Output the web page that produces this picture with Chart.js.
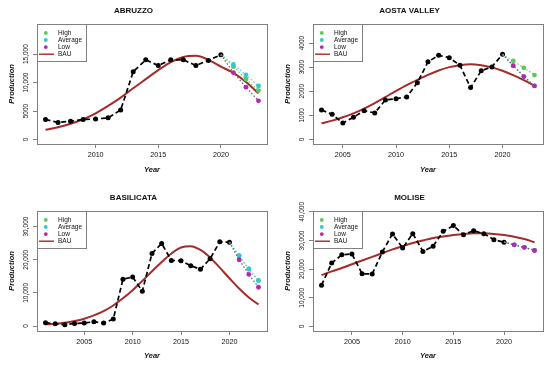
<!DOCTYPE html>
<html>
<head>
<meta charset="utf-8">
<script src="https://cdn.jsdelivr.net/npm/chart.js@4.4.0/dist/chart.umd.min.js"></script>
<style>
  body { margin: 0; background: #fff; }
  .panel { position: absolute; }
</style>
</head>
<body>
<canvas id="abruzzo" class="panel" width="275" height="183" style="left:0;top:0"></canvas>
<canvas id="aosta" class="panel" width="274" height="183" style="left:276px;top:0"></canvas>
<canvas id="basilicata" class="panel" width="275" height="184" style="left:0;top:183px"></canvas>
<canvas id="molise" class="panel" width="274" height="184" style="left:276px;top:183px"></canvas>
<script>
// values
var forecastYears = [2021, 2022, 2023];
var legendLabels = ['High', 'Average', 'Low', 'BAU'];

var abruzzoYears = [2006, 2007, 2008, 2009, 2010, 2011, 2012, 2013, 2014, 2015, 2016, 2017, 2018, 2019, 2020];
var abruzzoProd = [3500, 3000, 3200, 3500, 3600, 3800, 5200, 11900, 14000, 13000, 14000, 14000, 13000, 13900, 14900];
var abruzzoBauYears = [2006, 2007, 2008, 2009, 2010, 2011, 2012, 2013, 2014, 2015, 2016, 2017, 2018, 2019, 2020, 2021, 2022, 2023];
var abruzzoBau = [1700, 2150, 2750, 3550, 4600, 5900, 7350, 9000, 10600, 12200, 13600, 14500, 14700, 14000, 12800, 11700, 10100, 8100];
var abruzzoHigh = [12800, 10600, 8600];
var abruzzoAvg = [13200, 11350, 9400];
var abruzzoLow = [11750, 9200, 6800];
var abruzzoYTicks = [0, 5000, 10000, 15000];
var abruzzoYLabels = ['0', '5000', '10,000', '15,000'];
var abruzzoXTicks = [2010, 2015, 2020];

var aostaYears = [2003, 2004, 2005, 2006, 2007, 2008, 2009, 2010, 2011, 2012, 2013, 2014, 2015, 2016, 2017, 2018, 2019, 2020];
var aostaProd = [1220, 1040, 680, 920, 1190, 1100, 1640, 1690, 1760, 2350, 3220, 3490, 3390, 3080, 2150, 2850, 3010, 3530];
var aostaBauYears = [2003, 2004, 2005, 2006, 2007, 2008, 2009, 2010, 2011, 2012, 2013, 2014, 2015, 2016, 2017, 2018, 2019, 2020, 2021, 2022, 2023];
var aostaBau = [670, 780, 920, 1080, 1280, 1510, 1760, 2010, 2250, 2470, 2680, 2860, 3000, 3080, 3120, 3080, 2990, 2850, 2670, 2460, 2220];
var aostaHigh = [3260, 2970, 2670];
var aostaAvg = [3060, 2610, 2220];
var aostaLow = [3060, 2610, 2220];
var aostaYTicks = [0, 1000, 2000, 3000, 4000];
var aostaYLabels = ['0', '1000', '2000', '3000', '4000'];
var aostaXTicks = [2005, 2010, 2015, 2020];

var basilicataYears = [2001, 2002, 2003, 2004, 2005, 2006, 2007, 2008, 2009, 2010, 2011, 2012, 2013, 2014, 2015, 2016, 2017, 2018, 2019, 2020];
var basilicataProd = [1000, 700, 400, 800, 900, 1300, 900, 2100, 14100, 14800, 10500, 21900, 24900, 19800, 19700, 18200, 17100, 20300, 25400, 25300];
var basilicataBauYears = [2001, 2002, 2003, 2004, 2005, 2006, 2007, 2008, 2009, 2010, 2011, 2012, 2013, 2014, 2015, 2016, 2017, 2018, 2019, 2020, 2021, 2022, 2023];
var basilicataBau = [500, 700, 1000, 1500, 2200, 3200, 4500, 6200, 8400, 10800, 13600, 16500, 19300, 21900, 23700, 24100, 23000, 20700, 17600, 14400, 11300, 8600, 6500];
var basilicataHigh = [21200, 17200, 13700];
var basilicataAvg = [21200, 17200, 13700];
var basilicataLow = [20000, 15600, 11700];
var basilicataYTicks = [0, 10000, 20000, 30000];
var basilicataYLabels = ['0', '10,000', '20,000', '30,000'];
var basilicataXTicks = [2005, 2010, 2015, 2020];

var moliseYears = [2002, 2003, 2004, 2005, 2006, 2007, 2008, 2009, 2010, 2011, 2012, 2013, 2014, 2015, 2016, 2017, 2018, 2019, 2020];
var moliseProd = [14400, 22100, 25000, 25300, 18400, 18300, 26000, 32300, 27400, 32400, 26200, 28000, 33200, 35200, 32000, 33400, 32400, 30300, 29400];
var moliseBauYears = [2002, 2003, 2004, 2005, 2006, 2007, 2008, 2009, 2010, 2011, 2012, 2013, 2014, 2015, 2016, 2017, 2018, 2019, 2020, 2021, 2022, 2023];
var moliseBau = [17900, 19200, 20400, 21700, 23000, 24300, 25600, 26900, 28000, 29100, 30000, 30900, 31400, 31900, 32300, 32500, 32500, 32300, 31900, 31300, 30500, 29400];
var moliseHigh = [28500, 27600, 26500];
var moliseAvg = [28500, 27600, 26500];
var moliseLow = [28500, 27600, 26500];
var moliseYTicks = [0, 10000, 20000, 30000, 40000];
var moliseYLabels = ['0', '10,000', '20,000', '30,000', '40,000'];
var moliseXTicks = [2005, 2010, 2015, 2020];

var FONT = '"Liberation Sans", Arial, sans-serif';
var GREY = '#808080';
Chart.defaults.font.family = FONT;
Chart.defaults.color = '#111';

// box round the plot, R style rotated y labels and the legend box
var rFrame = {
  id: 'rFrame',
  afterDraw: function(chart, args, opts) {
    var ctx = chart.ctx;
    var a = chart.chartArea;
    var y = chart.scales.y;
    ctx.save();
    ctx.strokeStyle = GREY;
    ctx.lineWidth = 1;
    ctx.strokeRect(a.left + 0.5, a.top + 0.5, a.right - a.left, a.bottom - a.top);

    ctx.fillStyle = '#111';
    ctx.font = '6.5px ' + FONT;
    ctx.textAlign = 'center';
    ctx.textBaseline = 'middle';
    for (var i = 0; i < opts.yTicks.length; i++) {
      var py = y.getPixelForValue(opts.yTicks[i]);
      ctx.save();
      ctx.translate(a.left - 11, py);
      ctx.rotate(-Math.PI / 2);
      ctx.fillText(opts.yLabels[i], 0, 0);
      ctx.restore();
    }

    // legend
    var lx = a.left + 0.5, ly = a.top + 0.5;
    ctx.fillStyle = '#fff';
    ctx.fillRect(lx, ly, 49, 37);
    ctx.strokeStyle = GREY;
    ctx.strokeRect(lx, ly, 49, 37);
    ctx.font = '6.5px ' + FONT;
    ctx.textAlign = 'left';
    legendLabels.forEach(function(lab, k) {
      var ds = chart.data.datasets.find(function(d) { return d.label === lab; });
      var iy = ly + 8.4 + k * 7.1;
      if (lab === 'BAU') {
        ctx.strokeStyle = ds.borderColor;
        ctx.lineWidth = 1.4;
        ctx.beginPath();
        ctx.moveTo(lx + 1.5, iy);
        ctx.lineTo(lx + 16.5, iy);
        ctx.stroke();
      } else {
        ctx.fillStyle = ds.pointBackgroundColor;
        ctx.beginPath();
        ctx.arc(lx + 8.3, iy, 1.9, 0, Math.PI * 2);
        ctx.fill();
      }
      ctx.fillStyle = '#111';
      ctx.fillText(lab, lx + 20.5, iy + 0.5);
    });
    ctx.restore();
  }
};

function points(xs, ys) {
  return xs.map(function(x, i) { return {x: x, y: ys[i]}; });
}

function forecast(years, prod, vals) {
  var last = {x: years[years.length - 1], y: prod[prod.length - 1]};
  return [last].concat(points(forecastYears, vals));
}

function scenario(label, data, color, lineColor, order) {
  return {
    label: label,
    data: data,
    borderColor: lineColor,
    borderWidth: 1.3,
    borderDash: [1.5, 2],
    pointRadius: [0, 2.4, 2.4, 2.4],
    pointBackgroundColor: color,
    pointBorderWidth: 0,
    order: order
  };
}

function makePanel(id, p, box) {
  var canvas = document.getElementById(id);
  var W = canvas.width, H = canvas.height;
  new Chart(canvas.getContext('2d'), {
    type: 'line',
    data: {
      datasets: [
        {
          label: 'BAU',
          data: points(p.bauYears, p.bau),
          borderColor: '#a52a2a',
          borderWidth: 2,
          pointRadius: 0,
          cubicInterpolationMode: 'monotone',
          order: 5
        },
        {
          label: 'Production',
          data: points(p.years, p.prod),
          borderColor: '#000',
          borderWidth: 1.7,
          borderDash: [5, 3],
          pointRadius: 2.5,
          pointBackgroundColor: '#000',
          pointBorderWidth: 0,
          order: 4
        },
        scenario('High', forecast(p.years, p.prod, p.high), '#5cc85c', '#7fd07f', 3),
        scenario('Average', forecast(p.years, p.prod, p.avg), '#33c8d2', '#6fd3da', 2),
        scenario('Low', forecast(p.years, p.prod, p.low), '#b426b4', '#7a607a', 1)
      ]
    },
    options: {
      responsive: false,
      animation: false,
      devicePixelRatio: 1,
      layout: { padding: { left: 0, right: W - box.right, top: 0, bottom: 0 } },
      plugins: {
        legend: { display: false },
        tooltip: { enabled: false },
        title: {
          display: true,
          text: p.title,
          font: { size: 8, weight: 'bold' },
          color: '#111',
          padding: { top: box.titleTop, bottom: box.top - box.titleTop - 9.6 }
        },
        rFrame: { yTicks: p.yTicks, yLabels: p.yLabels }
      },
      scales: {
        x: {
          type: 'linear',
          min: p.xMin,
          max: p.xMax,
          afterBuildTicks: function(s) { s.ticks = p.xTicks.map(function(v) { return {value: v}; }); },
          afterFit: function(s) { s.height = H - box.bottom; },
          grid: { drawOnChartArea: false, color: GREY, tickLength: 4 },
          border: { display: false },
          ticks: {
            font: { size: 7.2 },
            color: '#111',
            padding: 3,
            maxRotation: 0,
            autoSkip: false,
            callback: function(v) { return String(v); }
          },
          title: {
            display: true,
            text: 'Year',
            color: '#111',
            font: { size: 7.5, weight: 'bold', style: 'italic' },
            padding: { top: 0, bottom: box.yearPad }
          }
        },
        y: {
          min: p.yMin,
          max: p.yMax,
          afterBuildTicks: function(s) { s.ticks = p.yTicks.map(function(v) { return {value: v}; }); },
          afterFit: function(s) { s.width = box.left; },
          grid: { drawOnChartArea: false, color: GREY, tickLength: 4 },
          border: { display: false },
          ticks: { display: false },
          title: {
            display: true,
            text: 'Production',
            color: '#111',
            font: { size: 7.5, weight: 'bold', style: 'italic' },
            padding: { top: 7.5, bottom: 0 }
          }
        }
      }
    },
    plugins: [rFrame]
  });
}

var topBox = { left: 37, right: 267, top: 24, bottom: 144, titleTop: 6.2, yearPad: 8.5 };
var bottomBox = { left: 37, right: 267, top: 28, bottom: 148, titleTop: 9.5, yearPad: 6.2 };

makePanel('abruzzo', {
  title: 'ABRUZZO', years: abruzzoYears, prod: abruzzoProd, bauYears: abruzzoBauYears, bau: abruzzoBau,
  high: abruzzoHigh, avg: abruzzoAvg, low: abruzzoLow,
  yTicks: abruzzoYTicks, yLabels: abruzzoYLabels, xTicks: abruzzoXTicks,
  xMin: 2005.32, xMax: 2023.68, yMin: -800, yMax: 20300
}, topBox);

makePanel('aosta', {
  title: 'AOSTA VALLEY', years: aostaYears, prod: aostaProd, bauYears: aostaBauYears, bau: aostaBau,
  high: aostaHigh, avg: aostaAvg, low: aostaLow,
  yTicks: aostaYTicks, yLabels: aostaYLabels, xTicks: aostaXTicks,
  xMin: 2002.2, xMax: 2023.8, yMin: -190, yMax: 4790
}, topBox);

makePanel('basilicata', {
  title: 'BASILICATA', years: basilicataYears, prod: basilicataProd, bauYears: basilicataBauYears, bau: basilicataBau,
  high: basilicataHigh, avg: basilicataAvg, low: basilicataLow,
  yTicks: basilicataYTicks, yLabels: basilicataYLabels, xTicks: basilicataXTicks,
  xMin: 2000.12, xMax: 2023.88, yMin: -1500, yMax: 34700
}, bottomBox);

makePanel('molise', {
  title: 'MOLISE', years: moliseYears, prod: moliseProd, bauYears: moliseBauYears, bau: moliseBau,
  high: moliseHigh, avg: moliseAvg, low: moliseLow,
  yTicks: moliseYTicks, yLabels: moliseYLabels, xTicks: moliseXTicks,
  xMin: 2001.16, xMax: 2023.84, yMin: -1600, yMax: 40300
}, bottomBox);
</script>
</body>
</html>
